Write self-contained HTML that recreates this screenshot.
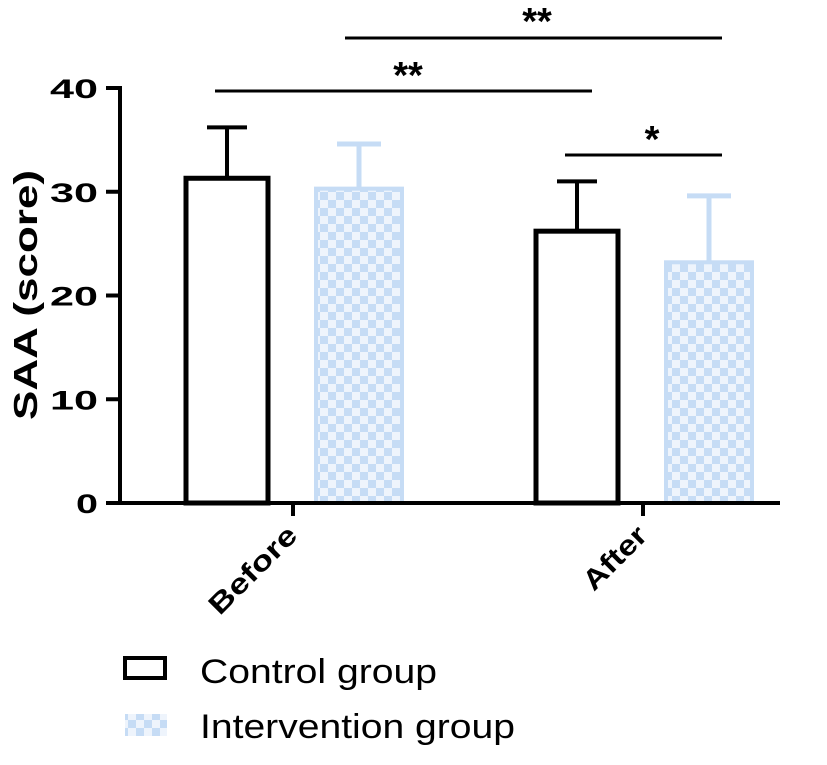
<!DOCTYPE html>
<html><head><meta charset="utf-8"><style>
body{margin:0;background:#fff;}
svg text{font-family:"Liberation Sans",Arial,sans-serif;}
</style></head><body>
<svg id="chart" width="827" height="760" xmlns="http://www.w3.org/2000/svg">
<defs>
<pattern id="chk" width="16" height="16" patternUnits="userSpaceOnUse">
<rect width="16" height="16" fill="#eef4fc"/>
<rect width="8" height="8" fill="#c6dcf5"/>
<rect x="8" y="8" width="8" height="8" fill="#c6dcf5"/>
</pattern>
</defs>
<g id="plot"></g>
<text x="0" y="0" transform="translate(37,295) rotate(-90)" text-anchor="middle" font-size="33" font-weight="bold" textLength="250" lengthAdjust="spacingAndGlyphs">SAA (score)</text>
<g>
<rect x="125" y="658" width="40" height="20" fill="#fff" stroke="#000" stroke-width="4"/>
<text x="200" y="683" font-size="34" textLength="237" lengthAdjust="spacingAndGlyphs">Control group</text>
<rect x="125" y="714" width="42" height="22" fill="url(#chk)"/>
<text x="200" y="738" font-size="34" textLength="315" lengthAdjust="spacingAndGlyphs">Intervention group</text>
</g>
</svg>
<script>
const categories = ["Before","After"];
const controlMeans = [31.3, 26.2];
const controlSD = [4.9, 4.8];
const interventionMeans = [30.3, 23.2];
const interventionSD = [4.3, 6.4];
const yTicks = [0,10,20,30,40];

const y0px=503, y40px=88;
const ys = v => y0px - (y0px-y40px)*v/40;
const catCenter = i => 293 + i*350;
const g = document.getElementById('plot');
const NS='http://www.w3.org/2000/svg';
function mk(tag, attrs){const e=document.createElementNS(NS,tag);for(const k in attrs)e.setAttribute(k,attrs[k]);g.appendChild(e);return e;}

categories.forEach((c,i)=>{
  const cx=catCenter(i);
  const x1=cx-107, w=82;
  let top=ys(controlMeans[i]), et=ys(controlMeans[i]+controlSD[i]);
  let l=mk('line',{x1:x1+w/2,x2:x1+w/2,y1:top,y2:et,stroke:'#000','stroke-width':4});
  
  
  l=mk('line',{x1:x1+w/2-20,x2:x1+w/2+20,y1:et,y2:et,stroke:'#000','stroke-width':4});
  
  
  let r=mk('rect',{x:x1,y:top,width:w,height:y0px-top,fill:'#fff',stroke:'#000','stroke-width':5});
  
  
  const x2=cx+23, w2=86;
  top=ys(interventionMeans[i]); et=ys(interventionMeans[i]+interventionSD[i]);
  l=mk('line',{x1:x2+w2/2,x2:x2+w2/2,y1:top,y2:et,stroke:'#c6dcf5','stroke-width':5});
  
  
  l=mk('line',{x1:x2+w2/2-22,x2:x2+w2/2+22,y1:et,y2:et,stroke:'#c6dcf5','stroke-width':5});
  
  
  r=mk('rect',{x:x2,y:top,width:w2,height:y0px-top,fill:'url(#chk)',stroke:'#c6dcf5','stroke-width':4});
  
  
  l=mk('line',{x1:cx,x2:cx,y1:y0px,y2:y0px+13,stroke:'#000','stroke-width':4});
  
  
  const ax=cx+6, ay=y0px+34;
  const t=mk('text',{x:ax,y:ay,'text-anchor':'end','font-size':28,'font-weight':'bold',textLength:(c.length>5?112:78),lengthAdjust:'spacingAndGlyphs',transform:`rotate(-45 ${ax} ${ay})`});
  t.textContent=c;
  
  
});

let ax=mk('line',{x1:120,x2:120,y1:86,y2:505,stroke:'#000','stroke-width':4});


ax=mk('line',{x1:118,x2:780,y1:y0px,y2:y0px,stroke:'#000','stroke-width':4});


yTicks.forEach(v=>{
  const y=ys(v);
  const l=mk('line',{x1:106,x2:120,y1:y,y2:y,stroke:'#000','stroke-width':4});
  
  
  const t=mk('text',{x:98,y:y+10,'text-anchor':'end','font-size':27,'font-weight':'bold',textLength:(v===0?22:48),lengthAdjust:'spacingAndGlyphs'});
  t.textContent=v;
  
  
});

const sig=[[215,592,91,'**',408,88],[345,722,38,'**',537,34],[565,722,155,'*',652,152]];
sig.forEach((s,i)=>{
  const l=mk('line',{x1:s[0],x2:s[1],y1:s[2],y2:s[2],stroke:'#000','stroke-width':3});
  
  
  const t=mk('text',{x:s[4],y:s[5],'text-anchor':'middle','font-size':38,'font-weight':'bold'});
  t.textContent=s[3];
  
  
});
</script>
</body></html>
